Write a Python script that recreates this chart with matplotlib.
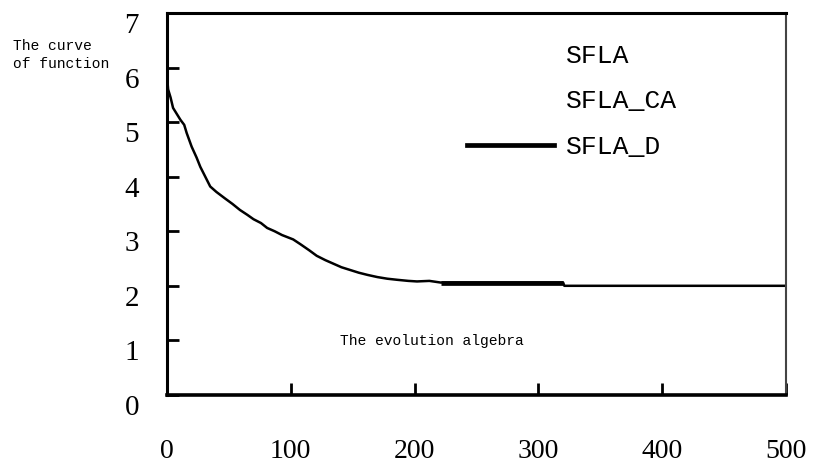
import matplotlib
matplotlib.use("Agg")
import matplotlib.pyplot as plt
from matplotlib.lines import Line2D

# evolution generation vs. function value
gens = [0, 1, 3, 5, 8, 11, 14, 16, 20, 24, 27, 31, 35, 40, 47, 53, 59, 65, 70,
        76, 81, 87, 93, 102, 108, 115, 121, 128, 135, 141, 148, 155, 162, 170,
        178, 186, 195, 202, 212, 221, 320, 321, 500]
vals = [5.88, 5.6, 5.45, 5.26, 5.15, 5.04, 4.95, 4.8, 4.55, 4.35, 4.18, 4.0,
        3.82, 3.72, 3.6, 3.5, 3.39, 3.3, 3.22, 3.15, 3.06, 3.0, 2.93, 2.85,
        2.76, 2.65, 2.55, 2.47, 2.40, 2.34, 2.29, 2.24, 2.20, 2.16, 2.13, 2.11,
        2.09, 2.08, 2.09, 2.06, 2.06, 2.0, 2.0]

# overlapping stretch where the curves sit on top of each other
overlap_gens = [221, 320]
overlap_vals = [2.06, 2.06]

legend_names = ["SFLA", "SFLA_CA", "SFLA_D"]
xticks = [0, 100, 200, 300, 400, 500]
yticks = [0, 1, 2, 3, 4, 5, 6, 7]

fig = plt.figure(figsize=(8.14, 4.63), dpi=100)
ax = fig.add_axes([0.205, 0.147, 0.7606, 0.825])

ax.plot(gens, vals, color="black", lw=1.8)
ax.plot(overlap_gens, overlap_vals, color="black", lw=3.4, solid_capstyle="butt")

ax.set_xlim(0, 500)
ax.set_ylim(0, 7)
ax.set_xticks(xticks)
ax.set_yticks(yticks)

serif = "Liberation Serif"
mono = "Liberation Mono"
ax.tick_params(axis="both", direction="in", length=8.5, width=2, color="black")
ax.tick_params(axis="x", pad=32)
ax.tick_params(axis="y", pad=20)
for lab in ax.get_xticklabels():
    lab.set_fontfamily(serif)
    lab.set_fontsize(20)
for lab in ax.get_yticklabels():
    lab.set_fontfamily(serif)
    lab.set_fontsize(21)
    lab.set_va("top")
    lab.set_y(0)

ax.spines["left"].set_linewidth(2.2)
ax.spines["bottom"].set_linewidth(2.6)
ax.spines["top"].set_linewidth(2.2)
ax.spines["right"].set_linewidth(1.5)
ax.spines["right"].set_color("#444444")

handles = [
    Line2D([], [], color="white", lw=0),
    Line2D([], [], color="white", lw=0),
    Line2D([], [], color="black", lw=3.4),
]
leg = ax.legend(handles, legend_names, loc="upper left",
                bbox_to_anchor=(0.485, 0.92), frameon=False,
                prop={"family": mono, "size": 19},
                handlelength=3.3, handletextpad=0.45, labelspacing=0.82,
                borderpad=0, borderaxespad=0)

fig.text(0.016, 0.882, "The curve\nof function", family=mono, fontsize=10.5,
         ha="left", va="center", linespacing=1.35)
ax.text(0.28, 0.14, "The evolution algebra", transform=ax.transAxes,
        family=mono, fontsize=10.5, ha="left", va="center")

fig.savefig("out.png", dpi=100)
